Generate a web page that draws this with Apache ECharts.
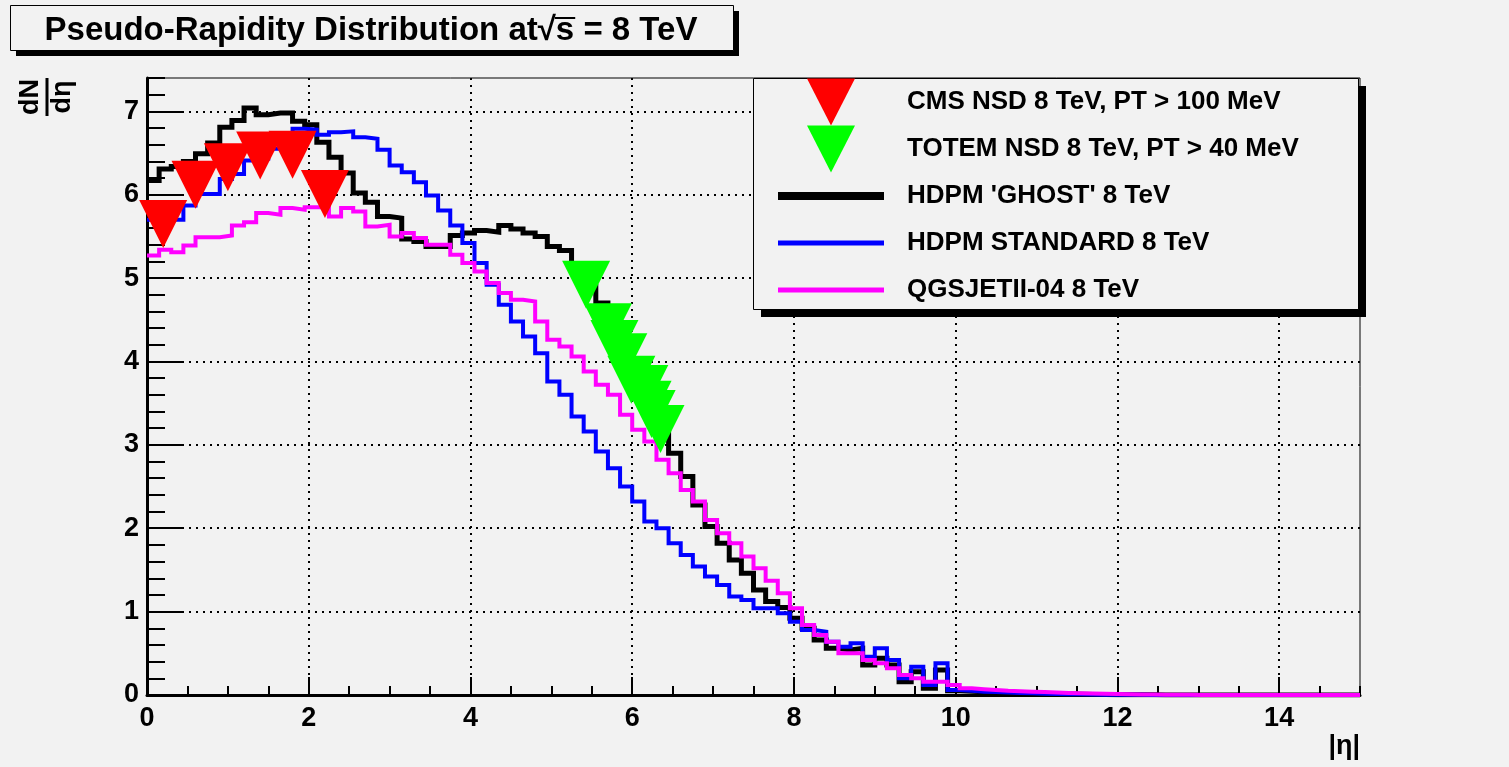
<!DOCTYPE html>
<html>
<head>
<meta charset="utf-8">
<script src="https://cdn.jsdelivr.net/npm/echarts@6/dist/echarts.min.js"></script>
<style>
html,body{margin:0;padding:0;background:#f2f2f2;}
#chart{width:1509px;height:767px;}
</style>
</head>
<body>
<div id="chart"></div>
<script>
// ---------------- DATA ----------------
const BIN_WIDTH = 0.15; // histogram bin width in |eta|
const X_MIN = 0, X_MAX = 15, Y_MIN = 0, Y_MAX = 7.4;
const xMajorTicks = [0, 2, 4, 6, 8, 10, 12, 14];
const yMajorTicks = [0, 1, 2, 3, 4, 5, 6, 7];

const seriesNames = [
  "CMS NSD 8 TeV, PT > 100 MeV",
  "TOTEM NSD 8 TeV, PT > 40 MeV",
  "HDPM 'GHOST' 8 TeV",
  "HDPM STANDARD 8 TeV",
  "QGSJETII-04 8 TeV"
];

// HDPM 'GHOST' (black), 100 bins of width 0.15 starting at 0
const ghost = [
  6.17, 6.31, 6.34, 6.40, 6.49, 6.62, 6.81, 6.89, 7.04, 6.96,
  6.98, 6.98, 6.88, 6.84, 6.63, 6.45, 6.26, 6.02, 5.91, 5.74,
  5.72, 5.47, 5.44, 5.38, 5.38, 5.51, 5.54, 5.57, 5.55, 5.63,
  5.59, 5.54, 5.50, 5.38, 5.33, 5.10, 4.90, 4.70, 4.40, 4.10,
  3.80, 3.50, 3.20, 2.90, 2.62, 2.28, 2.02, 1.82, 1.62, 1.46,
  1.26, 1.12, 1.05, 0.92, 0.80, 0.66, 0.56, 0.54, 0.56, 0.36,
  0.44, 0.36, 0.16, 0.28, 0.08, 0.30, 0.05, 0.045, 0.04, 0.035,
  0.03, 0.025, 0.02, 0.017, 0.014, 0.011, 0.009, 0.007, 0.005, 0.004,
  0.003, 0.002, 0.002, 0.001, 0, 0, 0, 0, 0, 0,
  0, 0, 0, 0, 0, 0, 0, 0, 0, 0
];

// HDPM STANDARD (blue)
const standard = [
  5.70, 5.70, 5.70, 5.87, 6.01, 6.01, 6.19, 6.25, 6.41, 6.43,
  6.55, 6.66, 6.79, 6.78, 6.72, 6.75, 6.76, 6.69, 6.67, 6.54,
  6.35, 6.27, 6.15, 5.99, 5.81, 5.63, 5.42, 5.18, 4.92, 4.68,
  4.48, 4.30, 4.10, 3.76, 3.60, 3.34, 3.16, 2.92, 2.72, 2.50,
  2.32, 2.08, 2.00, 1.82, 1.68, 1.54, 1.42, 1.32, 1.18, 1.14,
  1.04, 1.04, 0.98, 0.88, 0.78, 0.76, 0.64, 0.58, 0.62, 0.46,
  0.56, 0.42, 0.20, 0.34, 0.12, 0.38, 0.06, 0.05, 0.04, 0.035,
  0.03, 0.025, 0.02, 0.016, 0.013, 0.01, 0.008, 0.006, 0.004, 0.003,
  0.002, 0.002, 0.001, 0.001, 0, 0, 0, 0, 0, 0,
  0, 0, 0, 0, 0, 0, 0, 0, 0, 0
];

// QGSJETII-04 (magenta)
const qgsjet = [
  5.27, 5.34, 5.31, 5.39, 5.49, 5.49, 5.51, 5.63, 5.67, 5.78,
  5.76, 5.84, 5.82, 5.85, 5.85, 5.74, 5.84, 5.80, 5.62, 5.64,
  5.50, 5.54, 5.48, 5.40, 5.40, 5.28, 5.18, 5.08, 4.94, 4.82,
  4.74, 4.72, 4.48, 4.26, 4.18, 4.06, 3.88, 3.72, 3.60, 3.36,
  3.18, 3.04, 2.82, 2.66, 2.46, 2.32, 2.10, 1.94, 1.82, 1.66,
  1.52, 1.37, 1.22, 1.04, 0.84, 0.72, 0.64, 0.50, 0.50, 0.42,
  0.38, 0.32, 0.24, 0.20, 0.16, 0.16, 0.12, 0.08, 0.07, 0.06,
  0.05, 0.045, 0.04, 0.035, 0.03, 0.025, 0.02, 0.017, 0.014, 0.011,
  0.009, 0.007, 0.005, 0.004, 0.003, 0.002, 0.001, 0, 0, 0,
  0, 0, 0, 0, 0, 0, 0, 0, 0, 0
];

// CMS data points (red)
const cmsEta = [0.2, 0.6, 1.0, 1.4, 1.8, 2.2];
const cmsVal = [5.65, 6.12, 6.33, 6.47, 6.48, 6.01];

// TOTEM data points (green)
const totemEta = [5.43, 5.70, 5.78, 5.89, 5.99, 6.15, 6.19, 6.24, 6.35];
const totemVal = [4.92, 4.41, 4.21, 4.05, 3.78, 3.67, 3.48, 3.37, 3.19];

// ---------------- BUILD ----------------
function histPoints(vals) {
  const pts = vals.map((v, i) => [i * BIN_WIDTH, v]);
  pts.push([vals.length * BIN_WIDTH, vals[vals.length - 1]]);
  return pts;
}
function zip(a, b) { return a.map((v, i) => [v, b[i]]); }

const FONT = '"Liberation Sans", Arial, Helvetica, sans-serif';
const BG = '#f2f2f2';

// title geometry (layout only)
const TITLE_PRE = 'Pseudo-Rapidity Distribution at\u221A';
const TITLE_S = 's';
const TITLE_POST = ' = 8 TeV';
const TITLE_FONT_SIZE = 33;
const TITLE_CX = 371, TITLE_CY = 32;
const mctx = document.createElement('canvas').getContext('2d');
mctx.font = 'bold ' + TITLE_FONT_SIZE + 'px ' + FONT;
const wPre = mctx.measureText(TITLE_PRE).width;
const wS = mctx.measureText(TITLE_S).width;
const wAll = mctx.measureText(TITLE_PRE + TITLE_S + TITLE_POST).width;
const titleLeft = TITLE_CX - wAll / 2;

const chart = echarts.init(document.getElementById('chart'), null, {renderer: 'canvas'});

const lineCommon = {
  type: 'line', xAxisIndex: 0, yAxisIndex: 0, step: 'end', symbol: 'none',
  showSymbol: false, animation: false, silent: true
};

const option = {
  backgroundColor: BG,
  animation: false,
  title: {
    text: TITLE_PRE + TITLE_S + TITLE_POST,
    left: TITLE_CX, textAlign: 'center', top: TITLE_CY - TITLE_FONT_SIZE / 2 - 1, padding: 0,
    textStyle: {fontSize: TITLE_FONT_SIZE, fontWeight: 'bold', color: '#000', fontFamily: FONT}
  },
  legend: {
    orient: 'vertical', left: 778, top: 78.5, padding: 0, itemGap: 0,
    itemWidth: 124, itemHeight: 47, symbolRotate: 0, selectedMode: false,
    itemStyle: {borderWidth: 0, opacity: 1},
    textStyle: {fontSize: 26, fontWeight: 'bold', color: '#000', fontFamily: FONT},
    data: [
      {name: seriesNames[0], icon: 'path://M0,0 M124,47 M29,0 L77,0 L53,47 Z'},
      {name: seriesNames[1], icon: 'path://M0,0 M124,47 M29,0 L77,0 L53,47 Z'},
      {name: seriesNames[2], icon: 'path://M0,0 M124,47 M0,19.5 L106,19.5 L106,27.5 L0,27.5 Z'},
      {name: seriesNames[3], icon: 'path://M0,0 M124,47 M0,21 L106,21 L106,26 L0,26 Z'},
      {name: seriesNames[4], icon: 'path://M0,0 M124,47 M0,21 L106,21 L106,26 L0,26 Z'}
    ],
    z: 10
  },
  grid: {
    left: 147, top: 78, width: 1213, height: 617,
    show: true, backgroundColor: 'transparent', borderColor: '#000', borderWidth: 1
  },
  xAxis: [
    {
      type: 'value', min: X_MIN, max: X_MAX, interval: 2, position: 'bottom',
      axisLine: {show: true, onZero: false, lineStyle: {color: '#000', width: 3}},
      axisTick: {show: true, inside: true, length: 18, customValues: xMajorTicks, lineStyle: {color: '#000', width: 2}},
      axisLabel: {show: true, customValues: xMajorTicks, margin: 10, color: '#000', fontSize: 27, fontWeight: 'bold', fontFamily: FONT},
      splitLine: {show: true, lineStyle: {color: '#000', width: 2, type: [2, 5]}},
      name: '|\u03B7|', nameLocation: 'end', nameGap: 0,
      nameTextStyle: {align: 'right', verticalAlign: 'top', padding: [38, 0, 0, 0], color: '#000', fontSize: 27, fontWeight: 'bold', fontFamily: FONT}
    },
    {
      type: 'value', min: X_MIN, max: X_MAX, interval: 0.5, position: 'bottom',
      axisLine: {show: false}, axisLabel: {show: false}, splitLine: {show: false},
      axisTick: {show: true, inside: true, length: 9, lineStyle: {color: '#000', width: 2}}
    }
  ],
  yAxis: [
    {
      type: 'value', min: Y_MIN, max: Y_MAX, interval: 1, position: 'left',
      axisLine: {show: true, onZero: false, lineStyle: {color: '#000', width: 3}},
      axisTick: {show: true, inside: true, length: 36, customValues: yMajorTicks, lineStyle: {color: '#000', width: 2}},
      axisLabel: {show: true, customValues: yMajorTicks, margin: 8, color: '#000', fontSize: 27, fontWeight: 'bold', fontFamily: FONT},
      splitLine: {show: true, lineStyle: {color: '#000', width: 2, type: [2, 5]}}
    },
    {
      type: 'value', min: Y_MIN, max: Y_MAX, interval: 0.2, position: 'left',
      axisLine: {show: false}, axisLabel: {show: false}, splitLine: {show: false},
      axisTick: {show: true, inside: true, length: 18, lineStyle: {color: '#000', width: 2}}
    }
  ],
  series: [
    Object.assign({}, lineCommon, {
      name: seriesNames[2], data: histPoints(ghost), color: '#000000',
      lineStyle: {color: '#000000', width: 5, join: 'miter', cap: 'butt'}, z: 3
    }),
    Object.assign({}, lineCommon, {
      name: seriesNames[3], data: histPoints(standard), color: '#0000ff',
      lineStyle: {color: '#0000ff', width: 4, join: 'miter', cap: 'butt'}, z: 4
    }),
    Object.assign({}, lineCommon, {
      name: seriesNames[4], data: histPoints(qgsjet), color: '#ff00ff',
      lineStyle: {color: '#ff00ff', width: 4, join: 'miter', cap: 'butt'}, z: 5
    }),
    {
      type: 'scatter', name: seriesNames[0], data: zip(cmsEta, cmsVal), xAxisIndex: 0, yAxisIndex: 0,
      symbol: 'triangle', symbolSize: 48, symbolRotate: 180, color: '#ff0000',
      itemStyle: {color: '#ff0000', borderWidth: 0, opacity: 1}, z: 6, silent: true, animation: false
    },
    {
      type: 'scatter', name: seriesNames[1], data: zip(totemEta, totemVal), xAxisIndex: 0, yAxisIndex: 0,
      symbol: 'triangle', symbolSize: 48, symbolRotate: 180, color: '#00ff00',
      itemStyle: {color: '#00ff00', borderWidth: 0, opacity: 1}, z: 6, silent: true, animation: false
    }
  ],
  graphic: [
    // title box shadow + box
    {type: 'rect', shape: {x: 16, y: 11, width: 723, height: 45}, style: {fill: '#000'}, z: 1, silent: true},
    {type: 'rect', shape: {x: 10.5, y: 5.5, width: 723, height: 45}, style: {fill: BG, stroke: '#000', lineWidth: 1}, z: 2, silent: true},
    // overline of sqrt(s)
    {type: 'line', shape: {x1: titleLeft + wPre - 1, y1: TITLE_CY - 14, x2: titleLeft + wPre + wS + 1, y2: TITLE_CY - 14},
     style: {stroke: '#000', lineWidth: 2}, z: 20, silent: true},
    // legend box shadow + box
    {type: 'rect', shape: {x: 761, y: 86, width: 605, height: 231}, style: {fill: '#000'}, z: 7, silent: true},
    {type: 'rect', shape: {x: 753.5, y: 78.5, width: 605, height: 231}, style: {fill: BG, stroke: '#000', lineWidth: 1}, z: 8, silent: true},
    // y-axis title dN/d eta (rotated fraction)
    {
      type: 'group', x: 47, y: 97, rotation: Math.PI / 2, z: 20, silent: true,
      children: [
        {type: 'text', x: 0, y: -3, style: {text: 'dN', font: 'bold 27px ' + FONT, fill: '#000', align: 'center', verticalAlign: 'bottom', textAlign: 'center', textVerticalAlign: 'bottom'}},
        {type: 'line', shape: {x1: -19, y1: 0, x2: 19, y2: 0}, style: {stroke: '#000', lineWidth: 3}},
        {type: 'text', x: 0, y: 2, style: {text: 'd\u03B7', font: 'bold 27px ' + FONT, fill: '#000', align: 'center', verticalAlign: 'top', textAlign: 'center', textVerticalAlign: 'top'}}
      ]
    }
  ]
};

chart.setOption(option);
</script>
</body>
</html>
